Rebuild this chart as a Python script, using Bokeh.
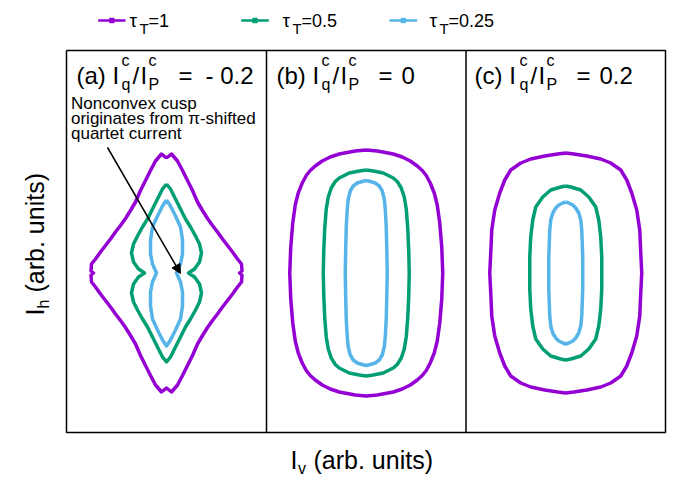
from math import pi
from bokeh.plotting import figure
from bokeh.models import Range1d, Label, Arrow, NormalHead
from bokeh.embed import file_html
from bokeh.resources import INLINE

# ---------------- data (arb. units, curves centred in each panel) ----------------
tau_values = ["1", "0.5", "0.25"]
colors = ["#9400D3", "#009E73", "#56B4E9"]
panel_tags = ["(a)", "(b)", "(c)"]
ratio_values = ["- 0.2", "0", "0.2"]

# panel (a): I^c_q/I^c_P = -0.2
a_tau1 = [(0, 1.15), (.05, 1.19), (.11, 1.12), (.16, 1.025), (.21, .925), (.26, .825), (.31, .71), (.36, .625),
          (.41, .545), (.46, .475), (.51, .41), (.56, .34), (.61, .275), (.66, .21), (.71, .14), (.75, .09),
          (.755, .02), (.73, 0), (.755, -.02), (.75, -.09), (.71, -.14), (.66, -.21), (.61, -.275), (.56, -.34),
          (.51, -.41), (.46, -.475), (.41, -.545), (.36, -.625), (.31, -.71), (.26, -.825), (.21, -.925),
          (.16, -1.025), (.11, -1.12), (.05, -1.19), (0, -1.15), (-.05, -1.19), (-.11, -1.12), (-.16, -1.025),
          (-.21, -.925), (-.26, -.825), (-.31, -.71), (-.36, -.625), (-.41, -.545), (-.46, -.475), (-.51, -.41),
          (-.56, -.34), (-.61, -.275), (-.66, -.21), (-.71, -.14), (-.75, -.09), (-.755, -.02), (-.73, 0),
          (-.755, .02), (-.75, .09), (-.71, .14), (-.66, .21), (-.61, .275), (-.56, .34), (-.51, .41),
          (-.46, .475), (-.41, .545), (-.36, .625), (-.31, .71), (-.26, .825), (-.21, .925), (-.16, 1.025),
          (-.11, 1.12), (-.05, 1.19), (0, 1.15)]
a_tau05 = [(0, .89), (.04, .84), (.09, .74), (.14, .64), (.19, .54), (.24, .46), (.29, .37), (.33, .29), (.35, .20),
           (.33, .11), (.28, .04), (.22, 0), (.28, -.04), (.33, -.11), (.35, -.20), (.33, -.29), (.29, -.37),
           (.24, -.46), (.19, -.54), (.14, -.64), (.09, -.74), (.04, -.84), (0, -.89), (-.04, -.84), (-.09, -.74),
           (-.14, -.64), (-.19, -.54), (-.24, -.46), (-.29, -.37), (-.33, -.29), (-.35, -.20), (-.33, -.11),
           (-.28, -.04), (-.22, 0), (-.28, .04), (-.33, .11), (-.35, .20), (-.33, .29), (-.29, .37), (-.24, .46),
           (-.19, .54), (-.14, .64), (-.09, .74), (-.04, .84), (0, .89)]
a_tau025 = [(0, .73), (.04, .67), (.09, .57), (.14, .46), (.16, .33), (.16, .19), (.14, .09), (.10, 0), (.14, -.09),
            (.16, -.19), (.16, -.33), (.14, -.46), (.09, -.57), (.04, -.67), (0, -.73), (-.04, -.67), (-.09, -.57),
            (-.14, -.46), (-.16, -.33), (-.16, -.19), (-.14, -.09), (-.10, 0), (-.14, .09), (-.16, .19),
            (-.16, .33), (-.14, .46), (-.09, .57), (-.04, .67), (0, .73)]

# panel (b): I^c_q/I^c_P = 0
b_tau1 = [(0, 1.23), (.11, 1.22), (.27, 1.19), (.36, 1.16), (.44, 1.12), (.51, 1.07), (.56, 1.025), (.60, .975),
          (.64, .90), (.68, .80), (.71, .68), (.735, .50), (.755, .26), (.765, 0), (.755, -.26), (.735, -.50),
          (.71, -.68), (.68, -.80), (.64, -.90), (.60, -.975), (.56, -1.025), (.51, -1.07), (.44, -1.12),
          (.36, -1.16), (.27, -1.19), (.11, -1.22), (0, -1.23), (-.11, -1.22), (-.27, -1.19), (-.36, -1.16),
          (-.44, -1.12), (-.51, -1.07), (-.56, -1.025), (-.60, -.975), (-.64, -.90), (-.68, -.80), (-.71, -.68),
          (-.735, -.50), (-.755, -.26), (-.765, 0), (-.755, .26), (-.735, .50), (-.71, .68), (-.68, .80),
          (-.64, .90), (-.60, .975), (-.56, 1.025), (-.51, 1.07), (-.44, 1.12), (-.36, 1.16), (-.27, 1.19),
          (-.11, 1.22), (0, 1.23)]
b_tau05 = [(0, 1.03), (.07, 1.02), (.17, 1.0), (.27, .95), (.31, .915), (.35, .85), (.38, .76), (.40, .64),
           (.415, .45), (.425, .22), (.43, 0), (.425, -.22), (.415, -.45), (.40, -.64), (.38, -.76), (.35, -.85),
           (.31, -.915), (.27, -.95), (.17, -1.0), (.07, -1.02), (0, -1.03), (-.07, -1.02), (-.17, -1.0),
           (-.27, -.95), (-.31, -.915), (-.35, -.85), (-.38, -.76), (-.40, -.64), (-.415, -.45), (-.425, -.22),
           (-.43, 0), (-.425, .22), (-.415, .45), (-.40, .64), (-.38, .76), (-.35, .85), (-.31, .915), (-.27, .95),
           (-.17, 1.0), (-.07, 1.02), (0, 1.03)]
b_tau025 = [(0, .925), (.04, .915), (.09, .90), (.13, .87), (.16, .82), (.18, .74), (.19, .64), (.20, .46),
            (.205, .26), (.21, 0), (.205, -.26), (.20, -.46), (.19, -.64), (.18, -.74), (.16, -.82), (.13, -.87),
            (.09, -.90), (.04, -.915), (0, -.925), (-.04, -.915), (-.09, -.90), (-.13, -.87), (-.16, -.82),
            (-.18, -.74), (-.19, -.64), (-.20, -.46), (-.205, -.26), (-.21, 0), (-.205, .26), (-.20, .46),
            (-.19, .64), (-.18, .74), (-.16, .82), (-.13, .87), (-.09, .90), (-.04, .915), (0, .925)]

# panel (c): I^c_q/I^c_P = 0.2
c_tau1 = [(0, 1.20), (.08, 1.19), (.21, 1.17), (.35, 1.14), (.45, 1.10), (.55, 1.03), (.61, .93), (.66, .80),
          (.71, .63), (.74, .43), (.75, .20), (.76, 0), (.75, -.20), (.74, -.43), (.71, -.63), (.66, -.80),
          (.61, -.93), (.55, -1.03), (.45, -1.10), (.35, -1.14), (.21, -1.17), (.08, -1.19), (0, -1.20),
          (-.08, -1.19), (-.21, -1.17), (-.35, -1.14), (-.45, -1.10), (-.55, -1.03), (-.61, -.93), (-.66, -.80),
          (-.71, -.63), (-.74, -.43), (-.75, -.20), (-.76, 0), (-.75, .20), (-.74, .43), (-.71, .63), (-.66, .80),
          (-.61, .93), (-.55, 1.03), (-.45, 1.10), (-.35, 1.14), (-.21, 1.17), (-.08, 1.19), (0, 1.20)]
c_tau05 = [(0, .87), (.05, .86), (.15, .83), (.23, .76), (.30, .66), (.33, .53), (.35, .36), (.36, .16), (.36, 0),
           (.36, -.16), (.35, -.36), (.33, -.53), (.30, -.66), (.23, -.76), (.15, -.83), (.05, -.86), (0, -.87),
           (-.05, -.86), (-.15, -.83), (-.23, -.76), (-.30, -.66), (-.33, -.53), (-.35, -.36), (-.36, -.16),
           (-.36, 0), (-.36, .16), (-.35, .36), (-.33, .53), (-.30, .66), (-.23, .76), (-.15, .83), (-.05, .86),
           (0, .87)]
c_tau025 = [(0, .71), (.03, .70), (.07, .68), (.10, .65), (.13, .60), (.15, .53), (.16, .43), (.165, .30),
            (.17, .15), (.17, 0), (.17, -.15), (.165, -.30), (.16, -.43), (.15, -.53), (.13, -.60), (.10, -.65),
            (.07, -.68), (.03, -.70), (0, -.71), (-.03, -.70), (-.07, -.68), (-.10, -.65), (-.13, -.60),
            (-.15, -.53), (-.16, -.43), (-.165, -.30), (-.17, -.15), (-.17, 0), (-.17, .15), (-.165, .30),
            (-.16, .43), (-.15, .53), (-.13, .60), (-.10, .65), (-.07, .68), (-.03, .70), (0, .71)]

panels = [[a_tau1, a_tau05, a_tau025], [b_tau1, b_tau05, b_tau025], [c_tau1, c_tau05, c_tau025]]

annotation_lines = ["Nonconvex cusp", "originates from \u03c0-shifted", "quartet current"]
axis_unit_text = "(arb. units)"

# ---------------- layout helpers (page pixel -> data) ----------------
W, H = 676, 487


def X(px):
    return (px - 166.0) / 100.0


def Y(py):
    return (272.5 - py) / 100.0


FONT = "Liberation Sans"
DESCENT = 0.212

p = figure(width=W, height=H, x_range=Range1d(X(0), X(W)), y_range=Range1d(Y(H), Y(0)),
           x_axis_type=None, y_axis_type=None, toolbar_location=None, output_backend="svg",
           min_border=0, outline_line_color=None, background_fill_color="white",
           border_fill_color="white")
p.title.visible = False


def lab(text, px, py, size, angle=0.0):
    """Place text with its origin at page pixel (px, py) on the baseline."""
    # Bokeh sizes purely numeric strings without a descent; compensate for that.
    numeric = all(ch.isdigit() or ch == "." for ch in text)
    d = 0.0 if numeric else DESCENT * size
    if angle == 0.0:
        x, y = X(px), Y(py + d)
    else:
        x, y = X(px + d), Y(py)
    p.add_layout(Label(x=x, y=y, text=text, text_font=FONT, text_font_size=f"{size}px",
                       text_color="black", text_align="left", text_baseline="bottom", angle=angle))


# panel frames
top, bot = Y(50), Y(432)
left, right = X(66), X(665)
sep1, sep2 = X(266), X(465.5)
p.multi_line(xs=[[left, right, right, left, left], [sep1, sep1], [sep2, sep2]],
             ys=[[top, top, bot, bot, top], [top, bot], [top, bot]],
             line_color="black", line_width=1.5)

# curves
centres = [X(166), X(365.75), X(565.25)]
for k, curves in enumerate(panels):
    for curve, col in zip(curves, colors):
        xs = [pt[0] + centres[k] for pt in curve]
        ys = [pt[1] for pt in curve]
        p.line(xs, ys, line_color=col, line_width=3.5, line_join="round")

# legend
leg_geom = [(97.7, 125.0, 129.0), (240.7, 268.3, 282.0), (389.0, 416.7, 429.0)]
for (lx0, lx1, tx), col, tau in zip(leg_geom, colors, tau_values):
    p.line([X(lx0), X(lx1)], [Y(20), Y(20)], line_color=col, line_width=2.5)
    p.scatter([X((lx0 + lx1) / 2)], [Y(20)], marker="square", size=4.5, color=col)
    lab("\u03c4", tx, 26.7, 19)
    lab("T", tx + 10, 33, 15)
    lab("=" + tau, tx + 19, 26.7, 18)

# panel titles
title_x0 = [76, 276, 474]
for x0, tag, val in zip(title_x0, panel_tags, ratio_values):
    xi = x0 + 36
    lab(f"{tag} I", x0, 83, 24)
    lab("c", xi + 9, 65.5, 16)
    lab("q", xi + 9, 89, 16)
    lab("/", xi + 20, 83, 24)
    lab("I", xi + 28, 83, 24)
    lab("c", xi + 36, 65.5, 16)
    lab("P", xi + 36, 89, 16)
    lab("=", xi + 66, 83, 24)
    lab(val, xi + 66 + (27 if val.startswith("-") else 23), 83, 24)

# annotation in panel (a)
for line_text, by in zip(annotation_lines, [109, 124, 139]):
    lab(line_text, 70.5, by, 17)
p.add_layout(Arrow(end=NormalHead(size=9, fill_color="black", line_color="black", line_width=1),
                   x_start=X(107), y_start=Y(147), x_end=X(180), y_end=Y(273),
                   line_color="black", line_width=1.5))

# axis labels
lab("I", 290, 468, 25)
lab("v", 297.5, 473.5, 16)
lab(axis_unit_text, 313, 468, 25)

lab("I", 43.5, 315, 25, angle=pi / 2)
lab("h", 48.5, 308, 16, angle=pi / 2)
lab(axis_unit_text, 43.5, 292, 25, angle=pi / 2)

open("out.html", "w").write(file_html(p, INLINE))
